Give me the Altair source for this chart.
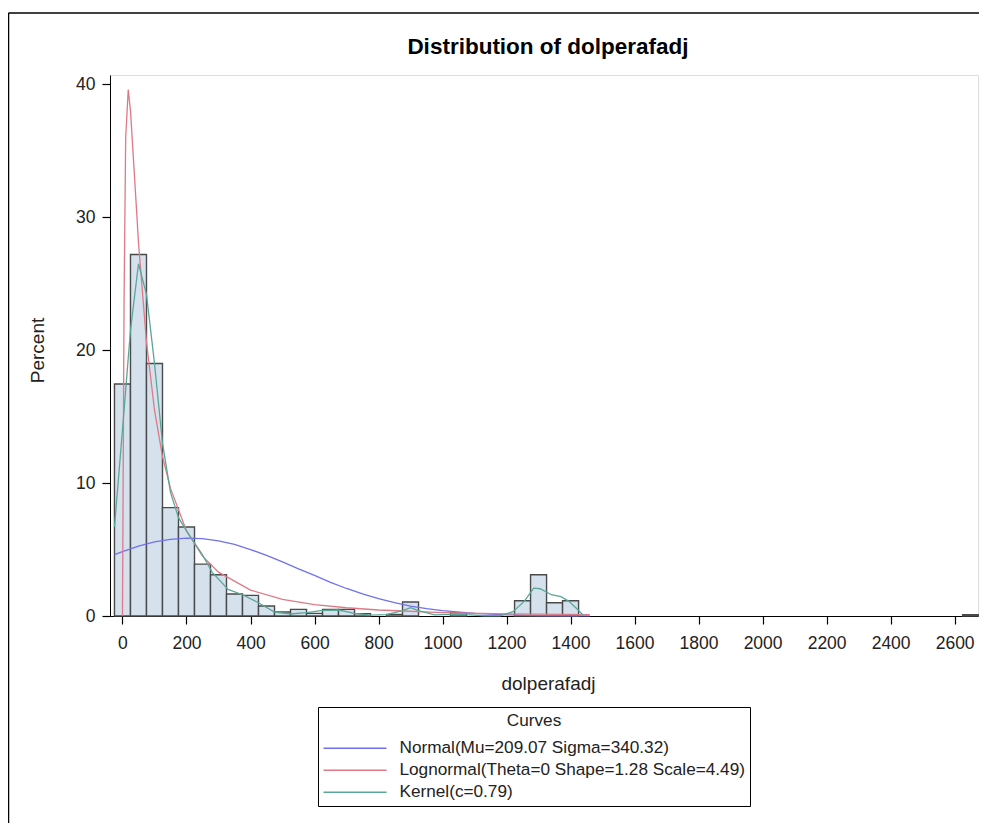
import altair as alt
import pandas as pd

# ---- histogram (bin midpoints, width 50) ----
bin_mid = [0, 50, 100, 150, 200, 250, 300, 350, 400, 450, 500, 550, 600, 650,
           700, 750, 850, 900, 1050, 1250, 1300, 1350, 1400, 2650]
bin_pct = [17.45, 27.2, 19.0, 8.15, 6.7, 3.9, 3.1, 1.65, 1.55, 0.75, 0.3, 0.5, 0.2, 0.5,
           0.5, 0.18, 0.12, 1.05, 0.25, 1.15, 3.1, 1.0, 1.15, 0.1]

# ---- fitted curves ----
normal_x = [-25, 0, 50, 100, 150, 200, 250, 300, 350, 400, 450, 500, 550, 600, 650,
            700, 750, 800, 850, 900, 950, 1000, 1100, 1200, 1300, 1460]
normal_y = [4.62, 4.85, 5.25, 5.57, 5.77, 5.86, 5.82, 5.65, 5.38, 5.0, 4.56, 4.07, 3.55, 3.05, 2.53,
            2.07, 1.66, 1.3, 1.0, 0.75, 0.55, 0.4, 0.19, 0.085, 0.035, 0.01]

lognormal_x = [0, 5, 10, 18, 25, 37, 50, 75, 100, 125, 150, 200, 250, 300, 400, 500,
               600, 700, 800, 1000, 1200, 1460]
lognormal_y = [0, 24.0, 36.0, 39.6, 38.0, 33.3, 28.1, 20.6, 15.5, 12.0, 9.6, 6.4, 4.5, 3.3, 1.95, 1.25,
               0.86, 0.62, 0.45, 0.26, 0.165, 0.1]

kernel_x = [-25, 0, 25, 50, 75, 100, 125, 150, 175, 200, 225, 250, 280, 330, 375, 425, 475,
            525, 575, 625, 675, 725, 775, 825, 875, 900, 925, 975, 1025, 1075, 1130, 1180,
            1220, 1255, 1285, 1305, 1340, 1370, 1395, 1418, 1440]
kernel_y = [6.7, 14.0, 21.5, 26.5, 24.2, 19.0, 13.0, 9.3, 7.4, 6.4, 5.5, 4.6, 3.3, 2.0, 1.6, 1.0, 0.3,
            0.15, 0.25, 0.43, 0.45, 0.2, 0.06, 0.1, 0.4, 0.62, 0.4, 0.08, 0.12, 0.1, 0.02, 0.02,
            0.33, 1.1, 2.1, 2.05, 1.6, 1.45, 1.1, 0.58, 0.05]

curve_labels = ["Normal(Mu=209.07 Sigma=340.32)",
                "Lognormal(Theta=0 Shape=1.28 Scale=4.49)",
                "Kernel(c=0.79)"]
curve_colors = ["#7070F2", "#DE7A86", "#5AA797"]

x_ticks = [0, 200, 400, 600, 800, 1000, 1200, 1400, 1600, 1800, 2000, 2200, 2400, 2600]
y_ticks = [0, 10, 20, 30, 40]

TITLE = "Distribution of dolperafadj"
FONT = "Liberation Sans, Arial, sans-serif"

bars = pd.DataFrame({"mid": bin_mid, "pct": bin_pct})
bars["lo"] = bars["mid"] - 25
bars["hi"] = bars["mid"] + 25

curves = pd.concat([
    pd.DataFrame({"x": normal_x, "y": normal_y, "curve": curve_labels[0]}),
    pd.DataFrame({"x": lognormal_x, "y": lognormal_y, "curve": curve_labels[1]}),
    pd.DataFrame({"x": kernel_x, "y": kernel_y, "curve": curve_labels[2]}),
], ignore_index=True)

W, H = 868, 541
xscale = alt.Scale(domain=[-39, 2673], nice=False, zero=False)
yscale = alt.Scale(domain=[0, 40.7], nice=False)

x_axis = alt.Axis(values=x_ticks, format="d", tickSize=8, labelFontSize=17.5, labelFont=FONT,
                  labelColor="#222", labelPadding=10, labelFlush=False, labelOverlap=False, grid=False,
                  domainColor="black", tickColor="black", tickWidth=1.2,
                  title="dolperafadj", titleFont=FONT, titleFontSize=19, titleFontWeight="normal",
                  titleColor="#222", titleX=438, titleY=67, titleBaseline="middle", titleAlign="center")
y_axis = alt.Axis(values=y_ticks, tickSize=8, labelFontSize=17.5, labelFont=FONT, labelColor="#222",
                  labelPadding=7, grid=False, domainColor="black", tickColor="black", tickWidth=1.2,
                  title="Percent", titleFont=FONT, titleFontSize=19, titleFontWeight="normal",
                  titleColor="#222", titleX=-73, titleY=275, titleBaseline="middle", titleAlign="center",
                  titleAngle=270)

bar_layer = alt.Chart(bars).mark_rect(fill="#D6E1EE", stroke="#4A4A4A", strokeWidth=1.4).encode(
    x=alt.X("lo:Q", scale=xscale, axis=x_axis),
    x2="hi:Q",
    y=alt.Y("pct:Q", scale=yscale, axis=y_axis),
    y2=alt.datum(0),
)

line_layer = alt.Chart(curves).mark_line(strokeWidth=1.3).encode(
    x=alt.X("x:Q", scale=xscale),
    y=alt.Y("y:Q", scale=yscale),
    color=alt.Color("curve:N", scale=alt.Scale(domain=curve_labels, range=curve_colors),
                    legend=alt.Legend(title="Curves", orient="none", legendX=208, legendY=632,
                                      titleAnchor="middle", titleFont=FONT, titleFontSize=17.2,
                                      titleFontWeight="normal", titleColor="#222", titlePadding=9,
                                      labelFont=FONT, labelFontSize=17.2, labelColor="#222",
                                      labelLimit=600, labelOffset=34.5,
                                      symbolType="M-3.5,0H3.5", symbolSize=324, symbolOffset=22,
                                      symbolStrokeWidth=1.5, symbolFillColor="transparent",
                                      rowPadding=3, padding=5, strokeColor="black",
                                      fillColor="white")),
)

one = pd.DataFrame({"k": [0]})
title_layer = alt.Chart(one).mark_text(text=TITLE, font=FONT, fontSize=22.5, fontWeight="bold",
                                       color="black", align="center", baseline="middle").encode(
    x=alt.value(438), y=alt.value(-28))
top_border = alt.Chart(one).mark_rule(color="black", strokeWidth=1.5).encode(
    x=alt.value(-101.5), x2=alt.value(W + 2), y=alt.value(-62))
left_border = alt.Chart(one).mark_rule(color="black", strokeWidth=1.5).encode(
    x=alt.value(-101.5), y=alt.value(-62), y2=alt.value(760))

chart = alt.layer(bar_layer, line_layer, title_layer, top_border, left_border).properties(
    width=W, height=H,
    padding={"left": 102, "top": 67, "right": 1, "bottom": 207},
    autosize=alt.AutoSizeParams(type="none"),
).configure_view(stroke="black", strokeWidth=1.5).configure(background="white")

chart.save("out.html", embed_options={"renderer": "svg", "actions": False})
